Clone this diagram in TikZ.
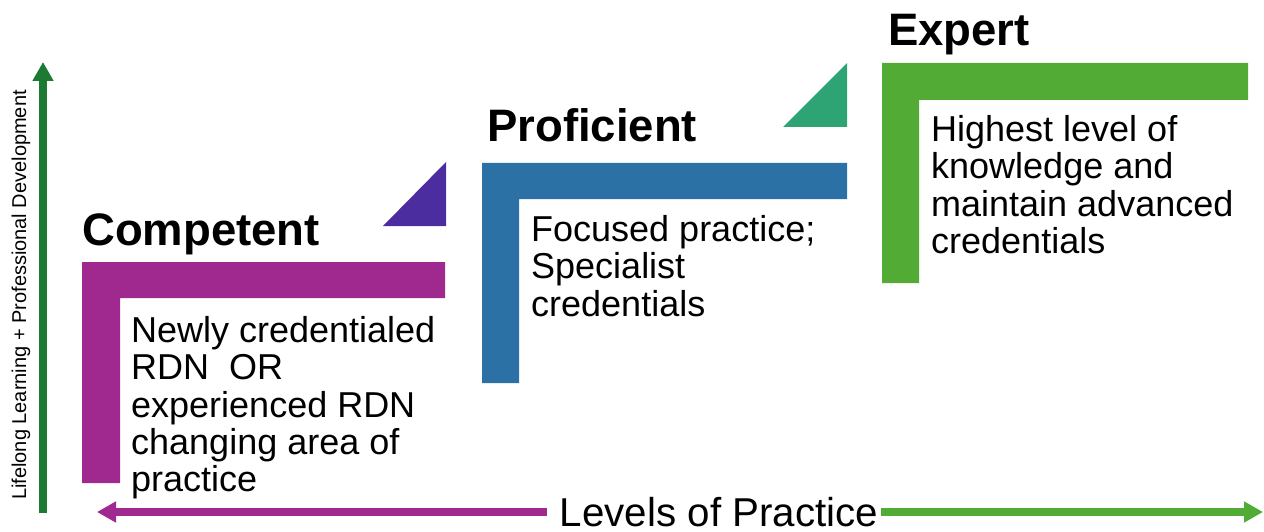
\documentclass[tikz,border=0pt]{standalone}
\usepackage{fontspec}
\setmainfont{Liberation Sans}
\usetikzlibrary{arrows.meta}
\definecolor{cmag}{HTML}{A0298F}
\definecolor{cblue}{HTML}{2B71A5}
\definecolor{cgreen}{HTML}{52AB34}
\definecolor{cpurple}{HTML}{4C2D9F}
\definecolor{cteal}{HTML}{2EA475}
\definecolor{cdkgreen}{HTML}{1D7A33}
\tikzset{
  title/.style={anchor=base west, inner sep=0pt, font=\fontsize{45.5}{48}\selectfont\bfseries},
  body/.style={anchor=north west, inner sep=0pt, align=left, font=\fontsize{36}{37.4}\selectfont},
  axisarrow/.style={line width=7.5pt, -{Triangle[width=20pt,length=19pt]}},
}
\begin{document}
\begin{tikzpicture}[x=1pt,y=-1pt]
\useasboundingbox (0,0) rectangle (1264,532);
% L shapes
\fill[cmag] (82,262) -- (445,262) -- (445,298) -- (120,298) -- (120,483) -- (82,483) -- cycle;
\fill[cblue] (482,163) -- (847,163) -- (847,199) -- (519,199) -- (519,383) -- (482,383) -- cycle;
\fill[cgreen] (882,63) -- (1248,63) -- (1248,100) -- (919,100) -- (919,283) -- (882,283) -- cycle;
% triangles
\fill[cpurple] (383,226) -- (446,226) -- (446,162) -- cycle;
\fill[cteal] (783,127) -- (847,127) -- (847,63) -- cycle;
% titles
\node[title] (tcomp) at (82,245) {Competent};
\node[title] (tprof) at (487,142) {Proficient};
\node[title] (texp) at (888,46) {Expert};
% bodies
\node[body] (bcomp) at (131,316) {Newly credentialed\\RDN\ \ OR\\experienced RDN\\changing area of\\practice};
\node[body] (bprof) at (531,215) {Focused practice;\\Specialist\\credentials};
\node[body] (bexp) at (931,115) {Highest level of\\knowledge and\\maintain advanced\\credentials};
% vertical axis
\coordinate (vbot) at (43,513);
\coordinate (vtop) at (43,62);
\draw[axisarrow, cdkgreen] (vbot) -- (vtop);
\node[rotate=90, inner sep=0pt, font=\fontsize{20}{22}\selectfont] (vlab) at (21,295) {Lifelong Learning + Professional Development};
% horizontal axis
\node[anchor=base, inner sep=0pt, font=\fontsize{40.3}{42}\selectfont] (hlab) at (719,526) {Levels of Practice};
\coordinate (hl1) at (547,512);
\coordinate (hl2) at (97,512);
\coordinate (hr1) at (881,512);
\coordinate (hr2) at (1263,512);
\draw[axisarrow, cmag] (hl1) -- (hl2);
\draw[axisarrow, cgreen] (hr1) -- (hr2);
\end{tikzpicture}
\end{document}
